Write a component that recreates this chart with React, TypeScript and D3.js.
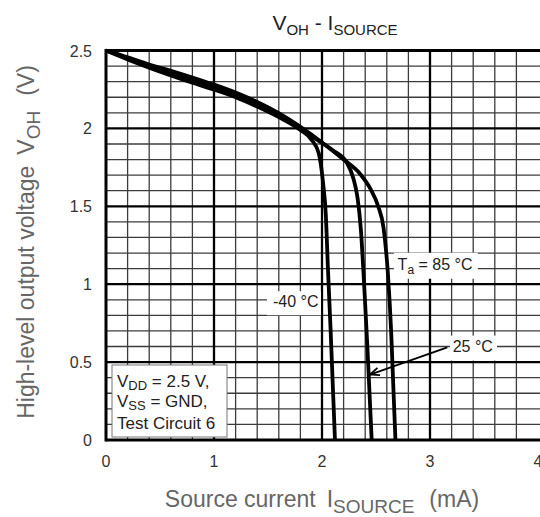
import React from 'react';
import * as d3 from 'd3';

const xTicks = [0, 1, 2, 3, 4];
const xTickLabels = ['0', '1', '2', '3', '4'];
const yTicks = [0, 0.5, 1, 1.5, 2, 2.5];
const yTickLabels = ['0', '0.5', '1', '1.5', '2', '2.5'];

const iM40 = [0, 0.2, 0.4, 0.6, 0.8, 1.0, 1.2, 1.4, 1.6, 1.8, 1.9, 1.97, 2.01, 2.035, 2.055, 2.08, 2.1, 2.12];
const vM40 = [2.5, 2.443, 2.39, 2.34, 2.293, 2.249, 2.2, 2.14, 2.072, 1.99, 1.93, 1.84, 1.65, 1.45, 1.1, 0.7, 0.35, 0];
const i25 = [0, 0.2, 0.4, 0.6, 0.8, 1.0, 1.2, 1.4, 1.6, 1.8, 1.95, 2.1, 2.23, 2.29, 2.33, 2.36, 2.39, 2.42, 2.44, 2.46];
const v25 = [2.5, 2.45, 2.4, 2.355, 2.31, 2.265, 2.215, 2.155, 2.085, 2.0, 1.93, 1.86, 1.78, 1.68, 1.55, 1.35, 1.0, 0.6, 0.3, 0];
const i85 = [0, 0.2, 0.4, 0.6, 0.8, 1.0, 1.2, 1.4, 1.6, 1.8, 2.0, 2.2, 2.35, 2.45, 2.52, 2.57, 2.61, 2.64, 2.66, 2.68];
const v85 = [2.5, 2.457, 2.41, 2.37, 2.327, 2.281, 2.23, 2.17, 2.098, 2.01, 1.91, 1.8, 1.71, 1.61, 1.5, 1.36, 1.07, 0.7, 0.35, 0];

const W = 540;
const H = 517;
const FONT = '"Liberation Sans", Arial, sans-serif';

export default function App() {
  const x = d3.scaleLinear().domain([0, 4]).range([106, 538]);
  const y = d3.scaleLinear().domain([0, 2.5]).range([440, 50.5]);

  const series = [
    { i: iM40, v: vM40 },
    { i: i25, v: v25 },
    { i: i85, v: v85 },
  ];
  const line = d3
    .line<[number, number]>()
    .x((d) => x(d[0]))
    .y((d) => y(d[1]))
    .curve(d3.curveMonotoneX);

  const vMinor = d3.range(0, 3.9, 0.2).filter((v) => Math.abs(v - Math.round(v)) > 1e-6);
  const vMajor = [1, 2, 3];
  const hMinor = d3.range(0, 2.55, 0.1).filter((v) => Math.abs(v * 2 - Math.round(v * 2)) > 1e-6);
  const hMajor = [0.5, 1, 1.5, 2];

  const tip: [number, number] = [x(2.445), y(0.42)];
  const tail: [number, number] = [x(3.16), y(0.595)];
  const ang = Math.atan2(tail[1] - tip[1], tail[0] - tip[0]);
  const ah = 10;
  const a1 = [tip[0] + ah * Math.cos(ang + 0.4), tip[1] + ah * Math.sin(ang + 0.4)];
  const a2 = [tip[0] + ah * Math.cos(ang - 0.4), tip[1] + ah * Math.sin(ang - 0.4)];

  return (
    <svg width={W} height={H} style={{ position: 'absolute', left: 0, top: 0, background: '#fff' }} fontFamily={FONT}>
      <rect x={0} y={0} width={W} height={H} fill="#fff" />
      {/* grid */}
      {vMinor.map((v) => (
        <line key={'vm' + v} x1={x(v)} x2={x(v)} y1={y(2.5)} y2={y(0)} stroke="#3c3c3c" strokeWidth={1.3} />
      ))}
      {hMinor.map((v) => (
        <line key={'hm' + v} x1={x(0)} x2={W} y1={y(v)} y2={y(v)} stroke="#3c3c3c" strokeWidth={1.3} />
      ))}
      {vMajor.map((v) => (
        <line key={'vM' + v} x1={x(v)} x2={x(v)} y1={y(2.5)} y2={y(0)} stroke="#000" strokeWidth={2.3} />
      ))}
      {hMajor.map((v) => (
        <line key={'hM' + v} x1={x(0)} x2={W} y1={y(v)} y2={y(v)} stroke="#000" strokeWidth={2.3} />
      ))}
      <line x1={x(0)} x2={W} y1={y(2.5)} y2={y(2.5)} stroke="#000" strokeWidth={3} />
      <line x1={x(0)} x2={W} y1={y(0)} y2={y(0)} stroke="#000" strokeWidth={3} />
      <line x1={x(0)} x2={x(0)} y1={y(2.5) - 1.5} y2={y(0) + 1.5} stroke="#000" strokeWidth={3} />

      {/* curves */}
      {series.map((s, k) => (
        <path
          key={k}
          d={line(s.i.map((iv, j) => [iv, s.v[j]] as [number, number])) || ''}
          fill="none"
          stroke="#000"
          strokeWidth={3.8}
          strokeLinejoin="round"
        />
      ))}

      {/* labels */}
      <rect x={x(2.665)} y={y(1.202)} width={84} height={26} fill="#fff" />
      <text x={x(2.70)} y={y(1.09)} fontSize={16} fill="#222">
        T<tspan fontSize={12} dy={4}>a</tspan>
        <tspan dy={-4}>{' = 85 °C'}</tspan>
      </text>
      <rect x={x(1.49)} y={y(0.955)} width={54} height={24} fill="#fff" />
      <text x={x(1.546)} y={y(0.853)} fontSize={16} fill="#222">
        -40 °C
      </text>
      <rect x={x(3.185)} y={y(0.67)} width={47} height={25} fill="#fff" />
      <text x={x(3.21)} y={y(0.564)} fontSize={16} fill="#222">
        25 °C
      </text>
      <line x1={tail[0]} y1={tail[1]} x2={tip[0]} y2={tip[1]} stroke="#000" strokeWidth={1.8} />
      <polyline
        points={`${a1[0]},${a1[1]} ${tip[0]},${tip[1]} ${a2[0]},${a2[1]}`}
        fill="none"
        stroke="#000"
        strokeWidth={1.8}
      />

      {/* conditions box */}
      <rect x={112} y={365} width={115} height={72} fill="#fff" stroke="#777" strokeWidth={1} />
      <text x={117} y={387} fontSize={17} fill="#222">
        V<tspan fontSize={13} dy={3}>DD</tspan>
        <tspan dy={-3}>{' = 2.5 V,'}</tspan>
      </text>
      <text x={117} y={407} fontSize={17} fill="#222">
        V<tspan fontSize={13} dy={3}>SS</tspan>
        <tspan dy={-3}>{' = GND,'}</tspan>
      </text>
      <text x={117} y={429} fontSize={17} fill="#222">
        Test Circuit 6
      </text>

      {/* tick labels */}
      {yTicks.map((v, k) => (
        <text key={'yt' + k} x={92} y={y(v) + 6} textAnchor="end" fontSize={16} fill="#333">
          {yTickLabels[k]}
        </text>
      ))}
      {xTicks.map((v, k) => (
        <text key={'xt' + k} x={x(v)} y={467} textAnchor="middle" fontSize={16} fill="#333">
          {xTickLabels[k]}
        </text>
      ))}

      {/* title */}
      <text x={335} y={30} textAnchor="middle" fontSize={21} fill="#222">
        V<tspan fontSize={15} dy={5}>OH</tspan>
        <tspan dy={-5}>{' - I'}</tspan>
        <tspan fontSize={15} dy={5}>SOURCE</tspan>
      </text>

      {/* axis titles */}
      <text x={322} y={507} textAnchor="middle" fontSize={23} fill="#666">
        Source current
        <tspan dx={11}>I</tspan>
        <tspan fontSize={19} dy={6}>SOURCE</tspan>
        <tspan dx={15} dy={-6}>(mA)</tspan>
      </text>
      <text transform="translate(34,242) rotate(-90)" textAnchor="middle" fontSize={23} fill="#666">
        High-level output voltage
        <tspan dx={11}>V</tspan>
        <tspan fontSize={19} dy={6}>OH</tspan>
        <tspan dx={15} dy={-6}>(V)</tspan>
      </text>
    </svg>
  );
}
